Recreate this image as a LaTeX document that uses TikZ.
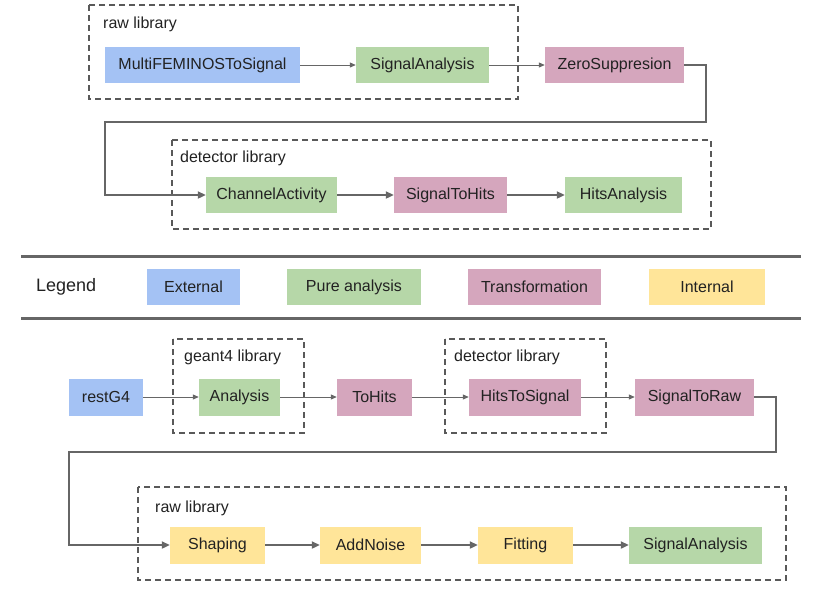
\documentclass[tikz,border=0pt]{standalone}
\usepackage{fontspec}
\setmainfont{Liberation Sans}
\usepackage{tikz}
\usetikzlibrary{arrows.meta, positioning, calc}

\definecolor{extblue}{HTML}{A4C2F4}
\definecolor{puregreen}{HTML}{B6D7A8}
\definecolor{transpink}{HTML}{D5A6BD}
\definecolor{intyellow}{HTML}{FFE599}
\definecolor{framegray}{HTML}{595959}
\definecolor{linegray}{HTML}{666666}
\definecolor{inkgray}{HTML}{222222}

\begin{document}
\begin{tikzpicture}[x=1pt, y=-1pt,
    box/.style={inner sep=0pt, minimum height=36pt, text=inkgray, font=\fontsize{16}{19}\selectfont},
    extbox/.style={box, fill=extblue},
    purebox/.style={box, fill=puregreen},
    transbox/.style={box, fill=transpink},
    intbox/.style={box, fill=intyellow},
    libframe/.style={draw=framegray, line width=1.4pt, dash pattern=on 6pt off 4pt},
    liblabel/.style={anchor=west, inner sep=0pt, text=inkgray, font=\fontsize{16}{19}\selectfont},
    flowthin/.style={draw=linegray, line width=1pt, -{Triangle[length=6pt, width=5pt]}},
    flowthick/.style={draw=linegray, line width=2pt, -{Triangle[length=8pt, width=7pt]}}]

  \useasboundingbox (0,0) rectangle (838,590);

  % Library frames
  \draw[libframe] (89,5) rectangle (518,99);
  \node[liblabel] (rawtop) at (103,24) {raw library};
  \draw[libframe] (172,140) rectangle (711,229);
  \node[liblabel] (dettop) at (180,158) {detector library};
  \draw[libframe] (173,339) rectangle (304,433);
  \node[liblabel] (geant) at (184,357) {geant4 library};
  \draw[libframe] (445,339) rectangle (606,433);
  \node[liblabel] (detbot) at (454,357) {detector library};
  \draw[libframe] (138,487) rectangle (786,580);
  \node[liblabel] (rawbot) at (155,508) {raw library};

  % Top chain
  \node[extbox, minimum width=195pt] (multi) at (202.5,65) {MultiFEMINOSToSignal};
  \node[purebox, minimum width=133pt] (sigana) at (422.5,65) {SignalAnalysis};
  \node[transbox, minimum width=139pt] (zero) at (614.5,65) {ZeroSuppresion};

  \node[purebox, minimum width=131pt] (chan) at (271.5,195) {ChannelActivity};
  \node[transbox, minimum width=113pt] (sighits) at (450.5,195) {SignalToHits};
  \node[purebox, minimum width=117pt] (hitsana) at (623.5,195) {HitsAnalysis};

  \coordinate (turnA) at (706,122);
  \coordinate (turnB) at (105,122);

  \draw[flowthin] (multi) -- (sigana);
  \draw[flowthin] (sigana) -- (zero);
  \draw[flowthick] (zero.east) -| (turnA) -- (turnB) |- (chan.west);
  \draw[flowthick] (chan) -- (sighits);
  \draw[flowthick] (sighits) -- (hitsana);

  % Legend
  \draw[linegray, line width=3pt] (21,256) coordinate (legtop) -- (801,256);
  \draw[linegray, line width=3pt] (21,318) coordinate (legbot) -- (801,318);
  \node[anchor=west, inner sep=0pt, text=inkgray, font=\fontsize{18}{22}\selectfont] (legend) at (36,287) {Legend};
  \node[extbox, minimum width=93pt] (legext) at (193.5,287) {External};
  \node[purebox, minimum width=134pt] (legpure) at (354,287) {Pure analysis};
  \node[transbox, minimum width=133pt] (legtrans) at (534.5,287) {Transformation};
  \node[intbox, minimum width=116pt] (legint) at (707,287) {Internal};

  % Bottom chain
  \node[extbox, minimum width=74pt, minimum height=37pt] (restg) at (106,397) {restG4};
  \node[purebox, minimum width=81pt, minimum height=37pt] (ana) at (239.5,397) {Analysis};
  \node[transbox, minimum width=75pt, minimum height=37pt] (tohits) at (374.5,397) {ToHits};
  \node[transbox, minimum width=112pt, minimum height=37pt] (hitssig) at (525,397) {HitsToSignal};
  \node[transbox, minimum width=119pt, minimum height=37pt] (sigraw) at (694.5,397) {SignalToRaw};

  \node[intbox, minimum width=95pt, minimum height=37pt] (shaping) at (217.5,545) {Shaping};
  \node[intbox, minimum width=101pt, minimum height=37pt] (noise) at (370.5,545) {AddNoise};
  \node[intbox, minimum width=95pt, minimum height=37pt] (fitting) at (525.5,545) {Fitting};
  \node[purebox, minimum width=133pt, minimum height=37pt] (sigana2) at (695.5,545) {SignalAnalysis};

  \coordinate (turnC) at (776,452);
  \coordinate (turnD) at (69,452);

  \draw[flowthin] (restg) -- (ana);
  \draw[flowthin] (ana) -- (tohits);
  \draw[flowthin] (tohits) -- (hitssig);
  \draw[flowthin] (hitssig) -- (sigraw);
  \draw[flowthick] (sigraw.east) -| (turnC) -- (turnD) |- (shaping.west);
  \draw[flowthick] (shaping) -- (noise);
  \draw[flowthick] (noise) -- (fitting);
  \draw[flowthick] (fitting) -- (sigana2);
\end{tikzpicture}
\end{document}
